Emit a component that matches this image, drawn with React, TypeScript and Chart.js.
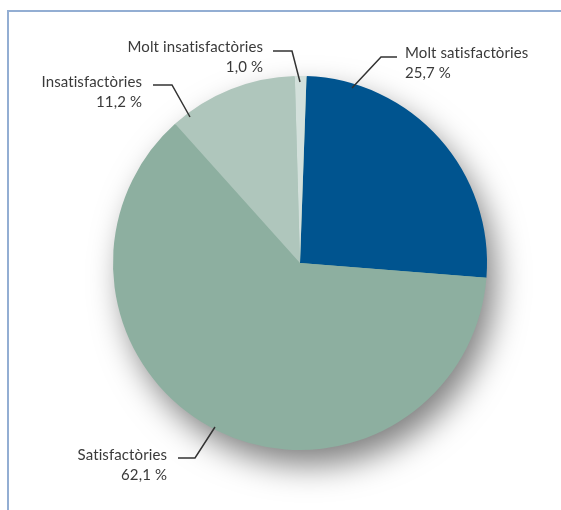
import React, { useEffect, useRef } from "react";
import { Chart, registerables } from "chart.js";

Chart.register(...registerables);

const categories = ["Molt satisfactòries", "Satisfactòries", "Insatisfactòries", "Molt insatisfactòries"];
const values = [25.7, 62.1, 11.2, 1.0];
const valueLabels = ["25,7 %", "62,1 %", "11,2 %", "1,0 %"];
const colors = ["#00548F", "#8DAFA0", "#AFC6BC", "#D3E0DB"];

// label layout relative to pie centre (px)
const labelLayout = [
  { anchor: [52, -175], elbow: [81, -206], end: [97, -206], align: "left", tx: 105, ty: -205 },
  { anchor: [-85, 164], elbow: [-105, 195], end: [-122, 195], align: "right", tx: -133, ty: 197 },
  { anchor: [-110, -146], elbow: [-128, -178], end: [-147, -178], align: "right", tx: -158, ty: -176 },
  { anchor: [0, -181], elbow: [-8, -212], end: [-27, -212], align: "right", tx: -37, ty: -211 },
];

const framePlugin = {
  id: "frame",
  beforeDraw(chart: any) {
    const ctx = chart.ctx;
    ctx.save();
    ctx.fillStyle = "#ffffff";
    ctx.fillRect(0, 0, chart.width, chart.height);
    ctx.strokeStyle = "#93AED3";
    ctx.lineWidth = 2;
    ctx.beginPath();
    ctx.moveTo(8, chart.height);
    ctx.lineTo(8, 11);
    ctx.lineTo(chart.width, 11);
    ctx.stroke();
    ctx.restore();
  },
  beforeDatasetsDraw(chart: any) {
    const arc = chart.getDatasetMeta(0).data[0];
    if (!arc) return;
    const ctx = chart.ctx;
    ctx.save();
    ctx.shadowColor = "rgba(0,0,0,0.5)";
    ctx.shadowBlur = 32;
    ctx.shadowOffsetX = 9;
    ctx.shadowOffsetY = 16;
    ctx.fillStyle = "#8DAFA0";
    ctx.beginPath();
    ctx.arc(arc.x, arc.y, arc.outerRadius - 1, 0, Math.PI * 2);
    ctx.fill();
    ctx.restore();
  },
  afterDraw(chart: any) {
    const arc = chart.getDatasetMeta(0).data[0];
    if (!arc) return;
    const cx = arc.x;
    const cy = arc.y;
    const ctx = chart.ctx;
    ctx.save();
    ctx.strokeStyle = "#333333";
    ctx.lineWidth = 1.5;
    ctx.fillStyle = "#3a3a3a";
    ctx.font = "15px Lato";
    try {
      (ctx as any).letterSpacing = "0.1px";
    } catch (e) {}
    ctx.textBaseline = "alphabetic";
    labelLayout.forEach((l, i) => {
      ctx.beginPath();
      ctx.moveTo(cx + l.anchor[0], cy + l.anchor[1]);
      ctx.lineTo(cx + l.elbow[0], cy + l.elbow[1]);
      ctx.lineTo(cx + l.end[0], cy + l.end[1]);
      ctx.stroke();
      ctx.textAlign = l.align as CanvasTextAlign;
      ctx.fillText(categories[i], cx + l.tx, cy + l.ty);
      ctx.fillText(valueLabels[i], cx + l.tx, cy + l.ty + 20);
    });
    ctx.restore();
  },
};

export default function App() {
  const ref = useRef<HTMLCanvasElement>(null);
  useEffect(() => {
    if (!ref.current) return;
    const chart = new Chart(ref.current, {
      type: "pie",
      data: {
        labels: categories,
        datasets: [
          {
            data: values,
            backgroundColor: colors,
            borderWidth: 0,
          },
        ],
      },
      options: {
        animation: false,
        responsive: true,
        maintainAspectRatio: false,
        rotation: 2,
        layout: { padding: { left: 113, right: 74, top: 76, bottom: 60 } },
        plugins: {
          legend: { display: false },
          tooltip: { enabled: false },
        },
      },
      plugins: [framePlugin],
    });
    return () => chart.destroy();
  }, []);
  return (
    <div style={{ position: "absolute", left: 0, top: 0, width: 561, height: 510 }}>
      <canvas ref={ref} />
    </div>
  );
}
